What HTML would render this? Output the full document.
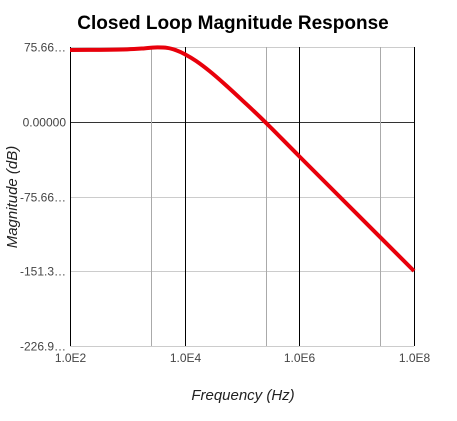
<!DOCTYPE html>
<html><head><meta charset="utf-8"><style>
body{margin:0;background:#fff;}
svg{display:block;font-family:"Liberation Sans",Arial,sans-serif;}
</style></head><body>
<svg width="457" height="421">
<text x="233" y="29" text-anchor="middle" font-size="19" font-weight="bold" fill="#000">Closed Loop Magnitude Response</text>
<g id="grid"></g>
<g id="ticks"></g>
<path id="curve" fill="none" stroke="#e8000b" stroke-width="4" stroke-linejoin="round"></path>
<text x="243" y="400" text-anchor="middle" font-size="15" font-style="italic" fill="#222">Frequency (Hz)</text>
<text transform="translate(17,197) rotate(-90)" text-anchor="middle" font-size="15" font-style="italic" fill="#222">Magnitude (dB)</text>
</svg>
<script>
const logFreq=[2,2.5,3,3.3,3.48,3.7,3.85,4,4.2,4.44,4.7,5,5.4,6,7,8];
const magDb=[72.6,72.8,73.3,74.3,75.2,74.7,72.4,68.5,61.5,51,38,22,0,-35,-93,-151];
const yTickValues=[75.66,0,-75.66,-151.3,-226.9];
const yTickLabels=["75.66…","0.00000","-75.66…","-151.3…","-226.9…"];
const xMajor=[2,4,6,8];
const xMajorLabels=["1.0E2","1.0E4","1.0E6","1.0E8"];
const xMinor=[3.41,5.41,7.41];
const X0=70,X1=414,Y0=47,Y1=346;
const xs=v=>X0+(v-2)/6*(X1-X0);
const ys=v=>Y0+(75.66-v)/(75.66+226.9)*(Y1-Y0);
const NS="http://www.w3.org/2000/svg";
const grid=document.getElementById('grid'),ticks=document.getElementById('ticks');
function line(x1,y1,x2,y2,c){const l=document.createElementNS(NS,'line');l.setAttribute('x1',x1);l.setAttribute('y1',y1);l.setAttribute('x2',x2);l.setAttribute('y2',y2);l.setAttribute('stroke',c);l.setAttribute('stroke-width',1);grid.appendChild(l);return l;}
yTickValues.forEach((v,i)=>{const y=Math.round(ys(v))+0.5;
const l=line(X0,y,X1,y,v===0?'#333':'#ccc');


const t=document.createElementNS(NS,'text');t.setAttribute('x',X0-4);t.setAttribute('y',y+4);t.setAttribute('text-anchor','end');t.setAttribute('font-size','12');t.setAttribute('fill','#444');t.textContent=yTickLabels[i];


ticks.appendChild(t);});
xMinor.forEach(v=>{const x=Math.round(xs(v))+0.5;const l=line(x,Y0,x,Y1,'#aaa');

});
xMajor.forEach((v,i)=>{const x=Math.round(xs(v))+0.5;const l=line(x,Y0,x,Y1,'#000');


const t=document.createElementNS(NS,'text');t.setAttribute('x',x);t.setAttribute('y',Y1+16);t.setAttribute('text-anchor','middle');t.setAttribute('font-size','12');t.setAttribute('fill','#444');t.textContent=xMajorLabels[i];


ticks.appendChild(t);});
const P=logFreq.map((f,i)=>[xs(f),ys(magDb[i])]);
let d='M'+P[0][0]+','+P[0][1];
for(let i=0;i<P.length-1;i++){const p0=P[i-1]||P[i],p1=P[i],p2=P[i+1],p3=P[i+2]||P[i+1];
d+=' C'+(p1[0]+(p2[0]-p0[0])/6)+','+(p1[1]+(p2[1]-p0[1])/6)+' '+(p2[0]-(p3[0]-p1[0])/6)+','+(p2[1]-(p3[1]-p1[1])/6)+' '+p2[0]+','+p2[1];}
document.getElementById('curve').setAttribute('d',d);
</script>
</body></html>
